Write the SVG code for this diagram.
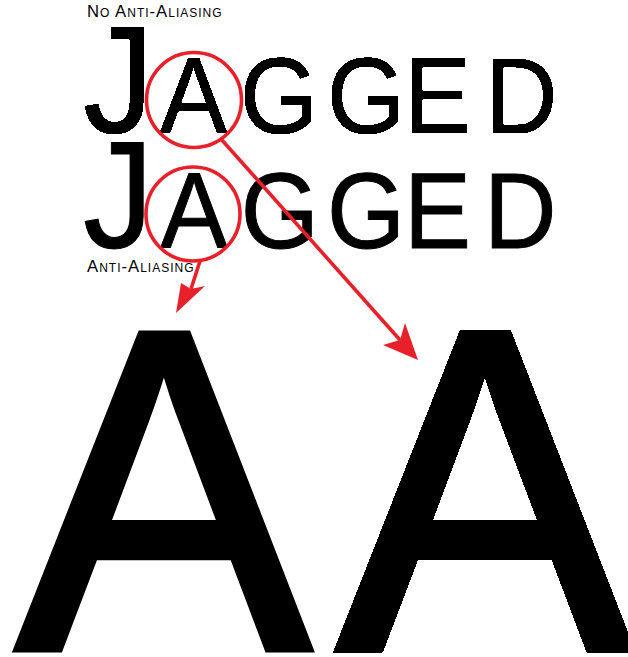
<svg xmlns="http://www.w3.org/2000/svg" width="628" height="657" viewBox="0 0 628 657">
  <style>
    text { font-family: "Liberation Sans", Arial, sans-serif; fill: #000; }
    .label { font-size: 16.7px; font-variant: small-caps; letter-spacing: 1px; }
    .word { stroke: #000; stroke-width: 1; }
    .cap { font-size: 152px; }
    .sc { font-size: 108px; }
    .big { font-size: 458px; stroke: #000; stroke-width: 7; stroke-linejoin: miter; }
    .ring { fill: none; stroke: #e8202a; stroke-width: 3.6; }
    .conn { stroke: #e8202a; stroke-width: 3.6; fill: none; }
    .head { fill: #e8202a; stroke: none; }
  </style>
  <defs>
    <filter id="alias" filterUnits="userSpaceOnUse" x="0" y="0" width="628" height="657">
      <feComponentTransfer>
        <feFuncA type="discrete" tableValues="0 1"/>
      </feComponentTransfer>
    </filter>
  </defs>
  <rect width="628" height="657" fill="#ffffff"/>

  <g id="label-no-aa">
    <text class="label" x="87" y="17">No Anti-Aliasing</text>
  </g>
  <g id="jagged-aliased" filter="url(#alias)">
    <text class="word" transform="translate(0,133) scale(0.93,1)"><tspan class="cap" x="89.2" y="0">J</tspan><tspan class="sc" x="172 258.1 351.6 434.4 521.5" y="0">AGGED</tspan></text>
  </g>
  <g id="jagged-aa">
    <text class="word" transform="translate(0,248) scale(0.93,1)"><tspan class="cap" x="89.2" y="0">J</tspan><tspan class="sc" x="172.5 259 351.6 434.4 520.5" y="0">AGGED</tspan></text>
  </g>
  <g id="label-aa">
    <text class="label" x="87" y="272">Anti-Aliasing</text>
  </g>
  <g id="big-a-aa">
    <text class="big" transform="translate(16,649) scale(0.965,1)" x="0" y="0">A</text>
  </g>
  <g id="big-a-aliased" filter="url(#alias)">
    <text class="big" transform="translate(337,649) scale(0.965,1)" x="0" y="0">A</text>
  </g>

  <g id="circle-top">
    <circle class="ring" cx="194" cy="100" r="47.5"/>
  </g>
  <g id="circle-bottom">
    <circle class="ring" cx="193" cy="214" r="47"/>
  </g>

  <g id="connectors">
    <line class="conn" x1="221" y1="139" x2="400" y2="340"/>
    <polygon class="head" points="418,360 383,345 400,340 405,323"/>
    <line class="conn" x1="200" y1="261" x2="191" y2="289"/>
    <polygon class="head" points="176,313 181,283 191,289 205,286"/>
  </g>
</svg>
